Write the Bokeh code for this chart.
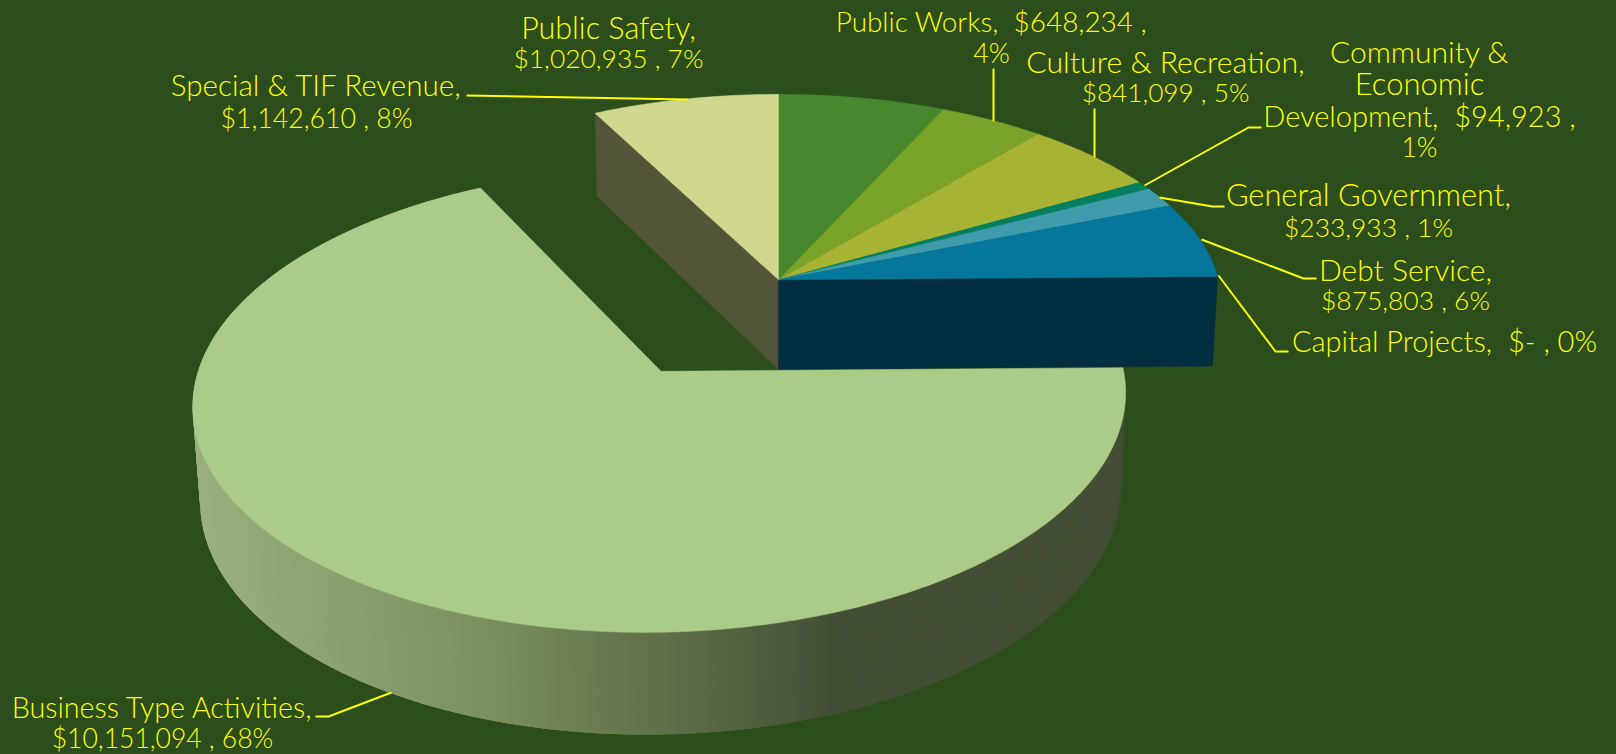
import math
from bokeh.plotting import figure
from bokeh.embed import file_html
from bokeh.resources import INLINE
from bokeh.core.properties import value

# ---- data (clockwise from 12 o'clock) ----
categories = ["Public Safety", "Public Works", "Culture & Recreation",
              "Community & Economic Development", "General Government",
              "Debt Service", "Capital Projects", "Business Type Activities",
              "Special & TIF Revenue"]
amounts = [1020935, 648234, 841099, 94923, 233933, 875803, 0, 10151094, 1142610]
top_colors = ["#47882e", "#78a228", "#a9b333", "#008060", "#3f9dab",
              "#06779c", "#06779c", "#abcb88", "#cfd88c"]
label_lines = [
    ["Public Safety,", "$1,020,935 , 7%"],
    ["Public Works,\u00a0 $648,234 ,", "4%"],
    ["Culture & Recreation,", "$841,099 , 5%"],
    ["Community &", "Economic", "Development,\u00a0 $94,923 ,", "1%"],
    ["General Government,", "$233,933 , 1%"],
    ["Debt Service,", "$875,803 , 6%"],
    ["Capital Projects,\u00a0 $- , 0%"],
    ["Business Type Activities,", "$10,151,094 , 68%"],
    ["Special & TIF Revenue,", "$1,142,610 , 8%"],
]

# ---- layout / style ----
BG = "#2c4e1c"
TXT = "#ffff00"
FONT = "Lato Light"
label_sizes = [[30.5, 26.4], [27.9, 27], [30.2, 26.2], [30, 31, 29, 26.5], [30.8, 26.4],
               [30, 26.4], [29], [28.7, 26.5], [29.6, 26.7]]
label_centers = [(608, 26, 31.5), (991, 20, 32), (1165, 60, 31.5), (1419, 50, 32.3),
                 (1368, 194, 32), (1405, 268, 31), (1444, 340, 31), (162, 706, 31),
                 (316, 84, 33)]
leaders = [
    None,
    [(993, 68), (993, 121)],
    [(1094, 108), (1094, 157)],
    [(1144, 185), (1248, 127), (1261, 127)],
    [(1159, 197), (1212, 206), (1224, 206)],
    [(1201, 239), (1303, 278), (1316, 278)],
    [(1218, 275), (1275, 351), (1288, 351)],
    [(391, 692), (328, 716), (315, 716)],
    [(687, 99), (466, 95)],
]

# projective model of the tilted pie
CX, CY, A, VY, Q, R, D = 778.0, 279.3, 440.0, -1494.0, 0.1168, 0.012, 112.0
EXPL = (-0.254, -0.42)   # plane offset of the pulled-out slice

def proj(X, Y, h=0.0):
    w = 1 + Q * Y + R * h
    return CX + A * X / w, VY + (CY - VY + D * h) / w

def rim(deg, off=(0, 0), h=0.0):
    t = math.radians(deg)
    return proj(off[0] + math.sin(t), off[1] + math.cos(t), h)

def arc(a0, a1, off=(0, 0), h=0.0):
    n = max(2, int(abs(a1 - a0)) + 2)
    return [rim(a0 + (a1 - a0) * i / (n - 1), off, h) for i in range(n)]

total = sum(amounts)
bounds = [0.0]
for v in amounts:
    bounds.append(bounds[-1] + 360.0 * v / total)

def lerp(c0, c1, f):
    return "#%02x%02x%02x" % tuple(round(a + (b - a) * f) for a, b in zip(c0, c1))

grad = [(190, (0x9b, 0xb2, 0x7f)), (500, (0x7a, 0x8e, 0x5e)), (840, (0x43, 0x4f, 0x35))]
def wall_color(x):
    if x <= grad[0][0]:
        return lerp(grad[0][1], grad[0][1], 0)
    for (x0, c0), (x1, c1) in zip(grad, grad[1:]):
        if x <= x1:
            return lerp(c0, c1, (x - x0) / (x1 - x0))
    return lerp(grad[-1][1], grad[-1][1], 0)

p = figure(width=1616, height=754, x_range=(0, 1616), y_range=(754, 0),
           output_backend="svg", toolbar_location=None, min_border=0,
           background_fill_color=BG, border_fill_color=BG, outline_line_color=None)
p.axis.visible = False
p.grid.visible = False

def poly(pts, color):
    p.patch([a for a, _ in pts], [b for _, b in pts], fill_color=color, line_color=color, line_width=0.5)

# radial side faces of the main pie
a_sp = bounds[8]
poly([proj(0, 0), rim(a_sp), rim(a_sp, h=1), proj(0, 0, 1)], "#525538")
a_de = bounds[6]
poly([proj(0, 0), rim(a_de), rim(a_de, h=1), proj(0, 0, 1)], "#012f3f")

# top faces of the main pie
for i in range(len(amounts)):
    if i == 7 or amounts[i] == 0:
        continue
    poly([proj(0, 0)] + arc(bounds[i], bounds[i + 1]), top_colors[i])

# pulled-out slice: shaded wall (overlapping strips, painted from the right) then top
b0, b1 = bounds[7], bounds[8]
xs, ys, cols = [], [], []
step = 0.5
n = int((b1 - b0) / step)
for i in range(n):
    a0 = b0 + (b1 - b0) * i / n
    a1 = min(b1, a0 + 3 * step)
    q = [rim(a0, EXPL), rim(a1, EXPL), rim(a1, EXPL, 1), rim(a0, EXPL, 1)]
    xs.append([c[0] for c in q])
    ys.append([c[1] for c in q])
    cols.append(wall_color(sum(c[0] for c in q) / 4))
p.patches(xs[::-1], ys[::-1], fill_color=cols[::-1], line_color=None)
poly([proj(*EXPL)] + arc(b0, b1, EXPL), top_colors[7])

# leader lines
for pts in leaders:
    if pts:
        p.line([a for a, _ in pts], [b for _, b in pts], line_color=TXT, line_width=2)

# labels
for lines, sizes, (cx, cy, lh) in zip(label_lines, label_sizes, label_centers):
    for k, (line, size) in enumerate(zip(lines, sizes)):
        p.text([cx], [cy + k * lh], text=[line],
               text_color=TXT, text_font=value(FONT), text_font_size=value("%gpx" % size),
               text_align="center", text_baseline="middle")

html = file_html(p, INLINE).replace("<head>", "<head><style>html,body{background:%s;overflow:hidden}</style>" % BG, 1)
open("out.html", "w").write(html)
